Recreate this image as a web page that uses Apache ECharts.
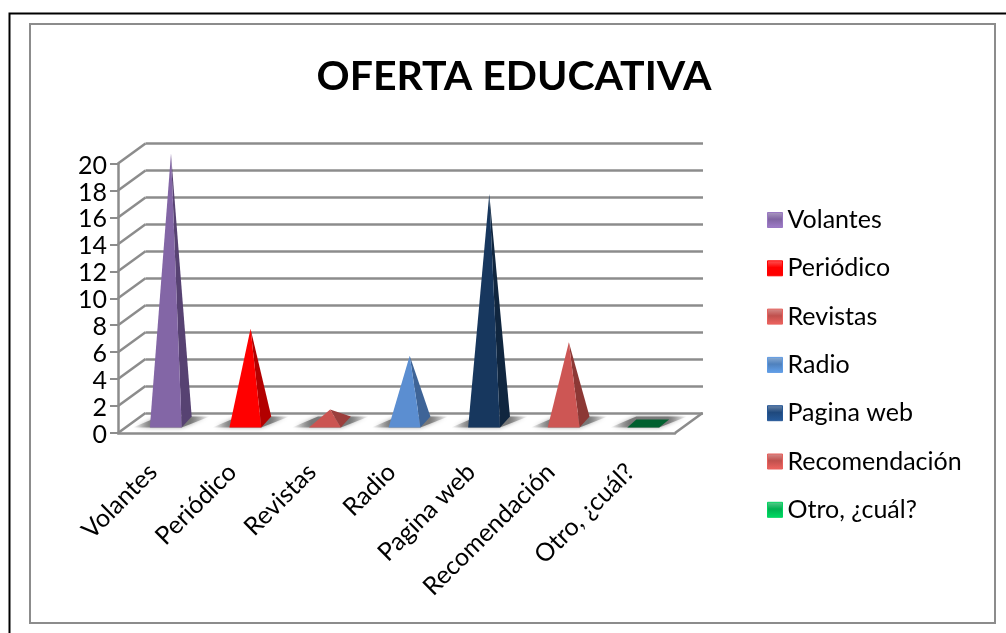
<!DOCTYPE html>
<html>
<head>
<meta charset="utf-8">
<script src="https://cdn.jsdelivr.net/npm/echarts@6/dist/echarts.min.js"></script>
<style>
  html, body { margin: 0; padding: 0; background: #fff; }
  #chart { width: 1006px; height: 633px; }
</style>
</head>
<body>
<div id="chart"></div>
<script>
var categories = ["Volantes", "Periódico", "Revistas", "Radio", "Pagina web", "Recomendación", "Otro, ¿cuál?"];
var values = [20, 7, 1, 5, 17, 6, 0];
var yTicks = [0, 2, 4, 6, 8, 10, 12, 14, 16, 18, 20];
var frontColors = ["#8366a6", "#ff0000", "#cb5451", "#5b8ed1", "#17375e", "#cd5654", "#00602f"];
var sideColors = ["#574272", "#b30000", "#9b3e3c", "#3e6497", "#10263f", "#8c3835", "#00602f"];
var legendColors = ["#8064a2", "#ff0000", "#c0504d", "#4f81bd", "#1f497d", "#c0504d", "#00b050"];

var myChart = echarts.init(document.getElementById("chart"));
var FONT = "Lato";
var LINE = "#8c8c8c";
var DX = 27.5; // desplazamiento de la pared del fondo
var DY = 20;

function bevel(color) {
  return new echarts.graphic.LinearGradient(0, 0, 0, 1, [
    { offset: 0, color: echarts.color.lift(color, 0.35) },
    { offset: 0.45, color: color },
    { offset: 1, color: echarts.color.lift(color, -0.25) },
  ]);
}

// sombra del piso, se desvanece hacia los lados
var floorShadow = new echarts.graphic.LinearGradient(0, 0, 1, 0, [
  { offset: 0, color: "rgba(115,115,115,0)" },
  { offset: 0.25, color: "rgba(115,115,115,0.9)" },
  { offset: 0.75, color: "rgba(115,115,115,0.9)" },
  { offset: 1, color: "rgba(115,115,115,0)" },
]);

// piramide sobre el piso, con su sombra
function renderPyramid(index) {
  return function (params, api) {
    var p = api.coord([api.value(0), 0]);
    var top = api.coord([api.value(0), api.value(1)]);
    var band = api.size([1, 0])[0];
    var w = band * 0.4;
    var fx = p[0] - w / 2 + 8;
    var fy = p[1] - 5.5;
    var bx = fx + 10;
    var by = fy - 11;
    var children = [
      {
        type: "polygon",
        shape: { points: [[fx - 17, fy], [fx + w, fy], [bx + w + 18, by], [bx - 1, by]] },
        style: { fill: floorShadow, shadowBlur: 4, shadowColor: "rgba(130,130,130,0.8)" },
      },
    ];
    if (api.value(1) === 0) {
      children.push({
        type: "polygon",
        shape: { points: [[fx, fy], [fx + w, fy], [fx + w + 10, fy - 8], [fx + 9, fy - 8]] },
        style: { fill: frontColors[index] },
      });
    } else {
      var ax = p[0] + 13.2;
      var ay = top[1] - 0.5 * DY;
      children.push({
        type: "polygon",
        shape: { points: [[fx + w, fy], [bx + w, by], [ax, ay]] },
        style: { fill: sideColors[index] },
      });
      children.push({
        type: "polygon",
        shape: { points: [[fx, fy], [fx + w, fy], [ax, ay]] },
        style: { fill: frontColors[index] },
      });
    }
    return { type: "group", children: children };
  };
}

// lineas diagonales entre el frente y la pared del fondo
function renderDepth(params, api) {
  var y = api.coord([0, api.value(1)])[1];
  var x = params.coordSys.x;
  return {
    type: "line",
    shape: { x1: x, y1: y, x2: x + DX, y2: y - DY },
    style: { stroke: LINE, lineWidth: 2.5 },
  };
}

function renderFloorEdge(params, api) {
  var y = api.coord([0, api.value(1)])[1];
  var x = params.coordSys.x + params.coordSys.width;
  return {
    type: "line",
    shape: { x1: x, y1: y, x2: x + DX, y2: y - DY },
    style: { stroke: LINE, lineWidth: 2.5 },
  };
}

var series = [
  {
    type: "custom",
    xAxisIndex: 0,
    yAxisIndex: 0,
    renderItem: renderDepth,
    silent: true,
    z: 1,
    data: yTicks.map(function (v) { return [0, v]; }),
  },
  {
    type: "custom",
    xAxisIndex: 0,
    yAxisIndex: 0,
    renderItem: renderFloorEdge,
    silent: true,
    z: 1,
    data: [[categories.length - 1, yTicks[0]]],
  },
];
categories.forEach(function (name, i) {
  series.push({
    name: name,
    type: "custom",
    xAxisIndex: 0,
    yAxisIndex: 0,
    renderItem: renderPyramid(i),
    itemStyle: { color: legendColors[i] },
    z: 3,
    data: [[i, values[i]]],
  });
});

var option = {
  animation: false,
  backgroundColor: "#fff",
  title: {
    text: "OFERTA EDUCATIVA",
    left: 509,
    top: 51,
    textAlign: "center",
    textStyle: { fontFamily: FONT, fontSize: 41, fontWeight: "bold", color: "#000" },
  },
  graphic: [
    { type: "polyline", shape: { points: [[9.5, 633], [9.5, 13.5], [1006, 13.5]] }, style: { stroke: "#000", lineWidth: 2, fill: null } },
    { type: "rect", shape: { x: 30, y: 24, width: 965, height: 599 }, style: { stroke: "#8c8c8c", lineWidth: 2, fill: null } },
  ],
  legend: {
    orient: "vertical",
    left: 762,
    top: 199,
    itemWidth: 15,
    itemHeight: 15,
    itemGap: 16.3,
    selectedMode: false,
    textStyle: { fontFamily: FONT, fontSize: 25, color: "#000", lineHeight: 32 },
    data: categories.map(function (name, i) {
      return {
        name: name,
        icon: "rect",
        itemStyle: { color: bevel(legendColors[i]), borderColor: echarts.color.lift(legendColors[i], -0.2), borderWidth: 1 },
      };
    }),
  },
  grid: [
    { left: 118, width: 557, top: 163.5, height: 269.5 },
    { left: 145.5, width: 557.5, top: 143.5, height: 269.5 },
  ],
  xAxis: [
    {
      type: "category",
      gridIndex: 0,
      data: categories,
      axisLine: { lineStyle: { color: LINE, width: 2.5 } },
      axisTick: { length: 8, lineStyle: { color: LINE, width: 2 } },
      axisLabel: { rotate: 45, margin: 30, padding: [0, 7, 0, 0], interval: 0, fontFamily: FONT, fontSize: 25, color: "#000" },
    },
    { type: "category", gridIndex: 1, data: categories, show: false },
  ],
  yAxis: [
    {
      type: "value",
      gridIndex: 0,
      min: 0,
      max: 20,
      interval: 2,
      axisLine: { show: true, lineStyle: { color: LINE, width: 2.5 } },
      axisTick: { show: true, length: 8, lineStyle: { color: LINE, width: 2 } },
      axisLabel: {
        margin: 11,
        formatter: "{n|{value}}",
        rich: { n: { padding: [4, 0, 0, 0], fontFamily: FONT, fontSize: 25, color: "#000" } },
      },
      splitLine: { show: false },
    },
    {
      type: "value",
      gridIndex: 1,
      min: 0,
      max: 20,
      interval: 2,
      axisLine: { show: false },
      axisTick: { show: false },
      axisLabel: { show: false },
      splitLine: { show: true, lineStyle: { color: LINE, width: 2.5 } },
    },
  ],
  series: series,
};

myChart.setOption(option);
</script>
</body>
</html>
